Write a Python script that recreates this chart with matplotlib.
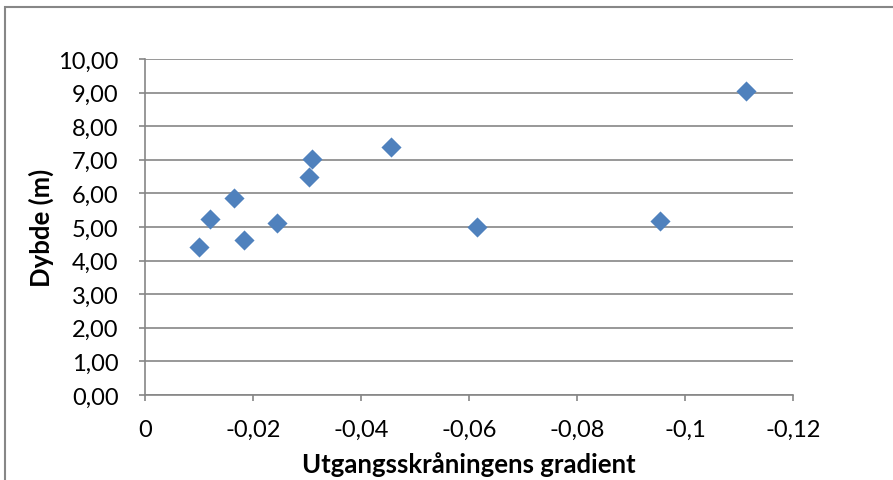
import matplotlib.pyplot as plt
from matplotlib.patches import Rectangle

# gradient (negative) vs depth
gradient = [-0.0100, -0.0120, -0.0165, -0.0183, -0.0244, -0.0304, -0.0309,
            -0.0456, -0.0615, -0.0954, -0.1113]
depth = [4.40, 5.24, 5.86, 4.61, 5.12, 6.49, 7.02, 7.38, 5.00, 5.18, 9.05]

x_ticks = [0, -0.02, -0.04, -0.06, -0.08, -0.10, -0.12]
x_labels = ['0', '-0,02', '-0,04', '-0,06', '-0,08', '-0,1', '-0,12']
y_ticks = list(range(0, 11))
y_labels = ['%d,00' % v for v in y_ticks]

plt.rcParams['font.family'] = ['Lato', 'DejaVu Sans']

W, H = 893, 481
fig = plt.figure(figsize=(W / 100, H / 100), dpi=100)
ax = fig.add_axes([145 / W, 1 - 396 / H, (793 - 145) / W, (396 - 60) / H])

ax.scatter(gradient, depth, marker='D', s=105, color='#4F81BD', zorder=3, linewidths=0)

ax.set_xlim(0, -0.12)
ax.set_ylim(0, 10)
ax.set_xticks(x_ticks)
ax.set_xticklabels(x_labels)
ax.set_yticks(y_ticks)
ax.set_yticklabels(y_labels)
ax.tick_params(axis='both', labelsize=17, color='#868686', length=4, width=1.2)
ax.tick_params(axis='y', pad=15)
ax.tick_params(axis='x', pad=13)

ax.grid(axis='y', color='#868686', linewidth=1.2)
ax.set_axisbelow(True)
for side in ['top', 'right']:
    ax.spines[side].set_visible(False)
for side in ['left', 'bottom']:
    ax.spines[side].set_color('#868686')
    ax.spines[side].set_linewidth(1.2)

ax.set_xlabel('Utgangsskråningens gradient', fontsize=18.5, fontweight='bold', labelpad=8)
ax.set_ylabel('Dybde (m)', fontsize=18.5, fontweight='bold', labelpad=3)

# outer chart border
fig.patches.append(Rectangle((5 / W, -0.1), 1.2, 1.1 - 8 / H, transform=fig.transFigure,
                             fill=False, edgecolor='#878787', linewidth=1.5))

fig.savefig('out.png', dpi=100)
